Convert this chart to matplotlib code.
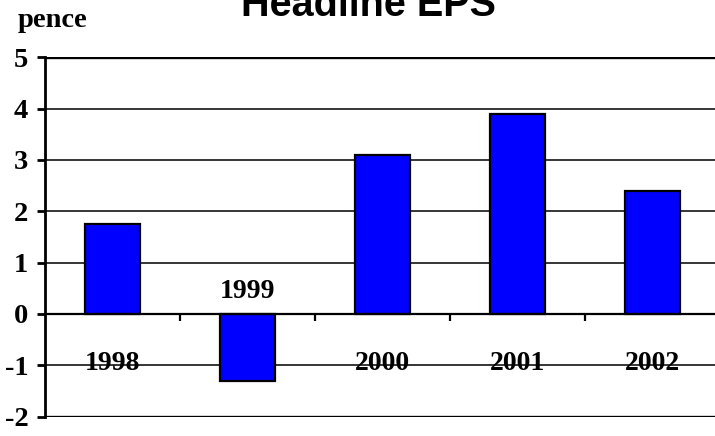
import numpy as np
import matplotlib
matplotlib.use('Agg')
import matplotlib.pyplot as plt

plt.rcParams['font.family'] = ['Liberation Serif', 'DejaVu Serif']
plt.rcParams['font.weight'] = 'bold'

# Headline EPS, pence
YEARS = ['1998', '1999', '2000', '2001', '2002']
EPS = [1.75, -1.3, 3.1, 3.9, 2.4]
# vertical placement of each year label (data units)
LABEL_Y = [-0.96, 0.44, -0.96, -0.96, -0.96]

fig = plt.figure(figsize=(7.15, 4.36), dpi=100)
ax = fig.add_axes([0.0629, 0.0447, 0.944, 0.824])

x = np.arange(len(YEARS))
ax.bar(x, EPS, width=0.41, color='#0000FF', edgecolor='black',
       linewidth=1.6, zorder=3)

ax.set_xlim(-0.5, len(YEARS) - 0.5)
ax.set_ylim(-2, 5)

# horizontal grid, heavier at top and bottom
for v in range(-2, 6):
    lw = 2.4 if v in (-2, 5) else 1.1
    if v != 0:
        ax.axhline(v, color='black', linewidth=lw, zorder=1)

for s in ('top', 'right'):
    ax.spines[s].set_visible(False)
ax.spines['left'].set_linewidth(2.0)
ax.spines['bottom'].set_position(('data', 0))
ax.spines['bottom'].set_linewidth(1.6)
ax.spines['bottom'].set_zorder(4)

ax.set_yticks(range(-2, 6))
ax.set_yticklabels([str(v) for v in range(-2, 6)], fontsize=20.5,
                   fontweight='bold')
ax.tick_params(axis='y', direction='out', length=6, width=2, pad=6)

ax.set_xticks(x[:-1] + 0.5)
ax.set_xticklabels([])
ax.tick_params(axis='x', direction='out', length=5, width=1.6)

for xi, lab, ly in zip(x, YEARS, LABEL_Y):
    ax.text(xi, ly, lab, ha='center', va='center', fontsize=20,
            fontweight='bold', zorder=5)

fig.text(0.0252, 0.938, 'pence', fontsize=20.5, fontweight='bold',
         ha='left', va='baseline')
fig.text(0.515, 0.963, 'Headline EPS', fontsize=28.5, fontweight='bold',
         family=['Liberation Sans', 'DejaVu Sans'], ha='center',
         va='baseline')

fig.savefig('out.png', dpi=100)
